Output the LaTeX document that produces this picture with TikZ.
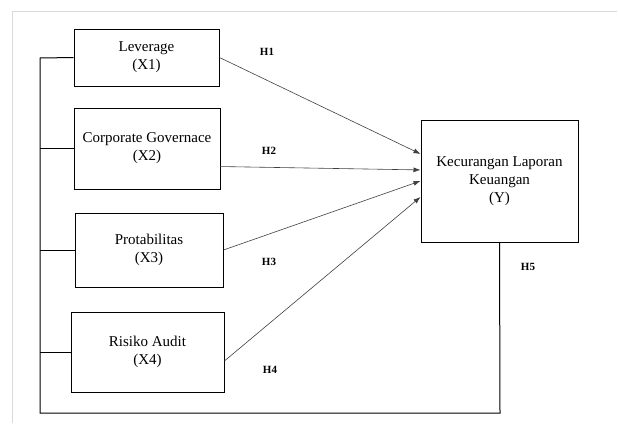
\documentclass[tikz,border=0pt]{standalone}
\usepackage{fontspec}
\setmainfont{Liberation Serif}
\usetikzlibrary{calc, arrows.meta}

\tikzset{
	varbox/.style = {draw, line width = 1pt, align = center, inner sep = 0pt,
		font = \fontsize{15}{18}\selectfont},
	hlabel/.style = {font = \fontsize{11}{13}\selectfont\bfseries},
	path/.style = {draw = black!75, line width = 0.6pt, -{Latex[length = 7pt, width = 5pt]}},
	bus/.style = {draw, line width = 1pt}
}

\begin{document}
\begin{tikzpicture}[x = 1pt, y = -1pt]
			\useasboundingbox (0,0) rectangle (618,423);
			\fill [white] (0,0) rectangle (618,423);
			
			% frame of the page
			\draw [black!15, line width = 1pt] (12,423) -- (12,11) -- (617,11);
			
			\node [varbox, minimum width = 145pt, minimum height = 57pt] (x1) at (146.5,57.5) {Leverage\\(X1)};
			\node [varbox, minimum width = 146pt, minimum height = 81pt] (x2) at (147,148.5) {Corporate Governace\\(X2)};
			\node [varbox, minimum width = 148pt, minimum height = 74pt] (x3) at (149,250) {Protabilitas\\(X3)};
			\node [varbox, minimum width = 153pt, minimum height = 80pt] (x4) at (147.5,352) {Risiko Audit\\(X4)};
			\node [varbox, minimum width = 157pt, minimum height = 122pt] (y) at (499.5,181) {Kecurangan Laporan\\Keuangan\\(Y)};
			
			\coordinate (bustop) at (40,58);
			\coordinate (busbot) at (40,413);
			\coordinate (busend) at (500,413);
			
			% hypotheses
			\draw [path] (x1.east) -- ($(y.north west)!0.28!(y.south west)$);
			\draw [path] ($(x2.north east)!0.72!(x2.south east)$) -- ($(y.north west)!0.41!(y.south west)$);
			\draw [path] (x3.east) -- ($(y.north west)!0.5!(y.south west)$);
			\draw [path] ($(x4.north east)!0.61!(x4.south east)$) -- ($(y.north west)!0.63!(y.south west)$);
			
			\draw [bus] (x1.west) -- (bustop) -- (busbot) -- (busend) -- (y.south);
			\draw [bus] (x2.west) -- (bustop |- x2.west);
			\draw [bus] (x3.west) -- (bustop |- x3.west);
			\draw [bus] (x4.west) -- (bustop |- x4.west);
			
			\node [hlabel] (h1) at (267,52) {H1};
			\node [hlabel] (h2) at (269,151) {H2};
			\node [hlabel] (h3) at (269,262) {H3};
			\node [hlabel] (h4) at (270,370) {H4};
			\node [hlabel] (h5) at (528,267) {H5};
		\end{tikzpicture}
\end{document}
